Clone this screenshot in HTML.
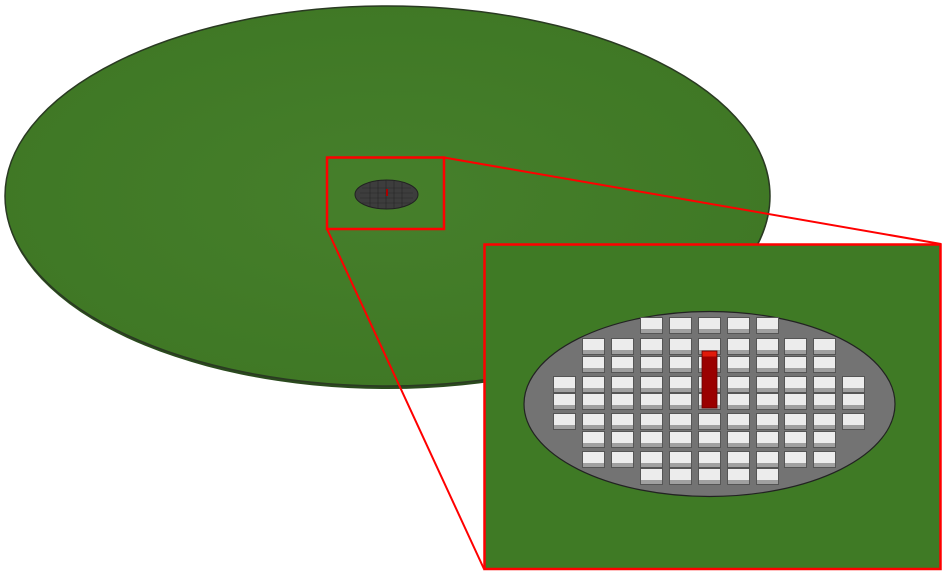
<!DOCTYPE html>
<html><head><style>html,body{margin:0;padding:0;background:#fff;}svg{display:block}</style></head>
<body>
<svg width="944" height="574" viewBox="0 0 944 574" xmlns="http://www.w3.org/2000/svg">
<defs>
<radialGradient id="g" cx="0.5" cy="0.5" r="0.6"><stop offset="0" stop-color="#467f2b"/><stop offset="1" stop-color="#3e7724"/></radialGradient>
<g id="chip">
<rect x="0" y="0" width="23" height="17" fill="#555"/>
<rect x="1" y="1" width="21" height="11" fill="#ececec"/>
<rect x="1" y="12" width="21" height="4" fill="#a0a0a0"/>
</g>
</defs>
<ellipse cx="387.5" cy="198" rx="382.5" ry="191" fill="#2b4a1e"/>
<ellipse cx="387.5" cy="196" rx="382.5" ry="190" fill="url(#g)" stroke="#2a3a22" stroke-width="1.5"/>
<ellipse cx="386.5" cy="194.5" rx="31.5" ry="14.5" fill="#3d3d3d" stroke="#222" stroke-width="1"/>
<g stroke="#222" stroke-width="0.6" opacity="0.8">
<line x1="362" y1="188" x2="411" y2="188"/><line x1="360" y1="193" x2="413" y2="193"/><line x1="360" y1="198" x2="413" y2="198"/><line x1="362" y1="203" x2="411" y2="203"/>
<line x1="370" y1="182" x2="370" y2="207"/><line x1="378" y1="181" x2="378" y2="208"/><line x1="386" y1="180" x2="386" y2="209"/><line x1="394" y1="181" x2="394" y2="208"/><line x1="402" y1="182" x2="402" y2="207"/>
</g>
<rect x="386" y="189" width="2" height="7" fill="#a00"/>
<rect x="327" y="157.5" width="117" height="71.5" fill="none" stroke="#f00" stroke-width="2.5"/>
<line x1="444" y1="157.5" x2="941" y2="244" stroke="#f00" stroke-width="2"/>
<line x1="327" y1="229" x2="484" y2="569" stroke="#f00" stroke-width="2"/>
<rect x="484.5" y="244.5" width="456" height="324.5" fill="#3f7a25" stroke="#f00" stroke-width="2.5"/>
<ellipse cx="709.5" cy="404" rx="185.5" ry="92.5" fill="#737373" stroke="#222" stroke-width="1.2"/>
<g>
<!-- row0 -->
<use href="#chip" x="640" y="317"/><use href="#chip" x="669" y="317"/><use href="#chip" x="698" y="317"/><use href="#chip" x="727" y="317"/><use href="#chip" x="756" y="317"/>
<!-- rows 1,2 cols1-9 -->
<use href="#chip" x="582" y="338"/><use href="#chip" x="611" y="338"/><use href="#chip" x="640" y="338"/><use href="#chip" x="669" y="338"/><use href="#chip" x="698" y="338"/><use href="#chip" x="727" y="338"/><use href="#chip" x="756" y="338"/><use href="#chip" x="784" y="338"/><use href="#chip" x="813" y="338"/>
<use href="#chip" x="582" y="356"/><use href="#chip" x="611" y="356"/><use href="#chip" x="640" y="356"/><use href="#chip" x="669" y="356"/><use href="#chip" x="698" y="356"/><use href="#chip" x="727" y="356"/><use href="#chip" x="756" y="356"/><use href="#chip" x="784" y="356"/><use href="#chip" x="813" y="356"/>
<!-- rows 3,4,5 cols0-10 -->
<use href="#chip" x="553" y="376"/><use href="#chip" x="582" y="376"/><use href="#chip" x="611" y="376"/><use href="#chip" x="640" y="376"/><use href="#chip" x="669" y="376"/><use href="#chip" x="698" y="376"/><use href="#chip" x="727" y="376"/><use href="#chip" x="756" y="376"/><use href="#chip" x="784" y="376"/><use href="#chip" x="813" y="376"/><use href="#chip" x="842" y="376"/>
<use href="#chip" x="553" y="393"/><use href="#chip" x="582" y="393"/><use href="#chip" x="611" y="393"/><use href="#chip" x="640" y="393"/><use href="#chip" x="669" y="393"/><use href="#chip" x="698" y="393"/><use href="#chip" x="727" y="393"/><use href="#chip" x="756" y="393"/><use href="#chip" x="784" y="393"/><use href="#chip" x="813" y="393"/><use href="#chip" x="842" y="393"/>
<use href="#chip" x="553" y="413"/><use href="#chip" x="582" y="413"/><use href="#chip" x="611" y="413"/><use href="#chip" x="640" y="413"/><use href="#chip" x="669" y="413"/><use href="#chip" x="698" y="413"/><use href="#chip" x="727" y="413"/><use href="#chip" x="756" y="413"/><use href="#chip" x="784" y="413"/><use href="#chip" x="813" y="413"/><use href="#chip" x="842" y="413"/>
<!-- rows 6,7 cols1-9 -->
<use href="#chip" x="582" y="431"/><use href="#chip" x="611" y="431"/><use href="#chip" x="640" y="431"/><use href="#chip" x="669" y="431"/><use href="#chip" x="698" y="431"/><use href="#chip" x="727" y="431"/><use href="#chip" x="756" y="431"/><use href="#chip" x="784" y="431"/><use href="#chip" x="813" y="431"/>
<use href="#chip" x="582" y="451"/><use href="#chip" x="611" y="451"/><use href="#chip" x="640" y="451"/><use href="#chip" x="669" y="451"/><use href="#chip" x="698" y="451"/><use href="#chip" x="727" y="451"/><use href="#chip" x="756" y="451"/><use href="#chip" x="784" y="451"/><use href="#chip" x="813" y="451"/>
<!-- row8 -->
<use href="#chip" x="640" y="468"/><use href="#chip" x="669" y="468"/><use href="#chip" x="698" y="468"/><use href="#chip" x="727" y="468"/><use href="#chip" x="756" y="468"/>
</g>
<rect x="702" y="351" width="15" height="57" fill="#9a0000" stroke="#600" stroke-width="0.8"/>
<rect x="702.5" y="351.5" width="14" height="5" fill="#e01a0a"/>
</svg>
</body></html>
